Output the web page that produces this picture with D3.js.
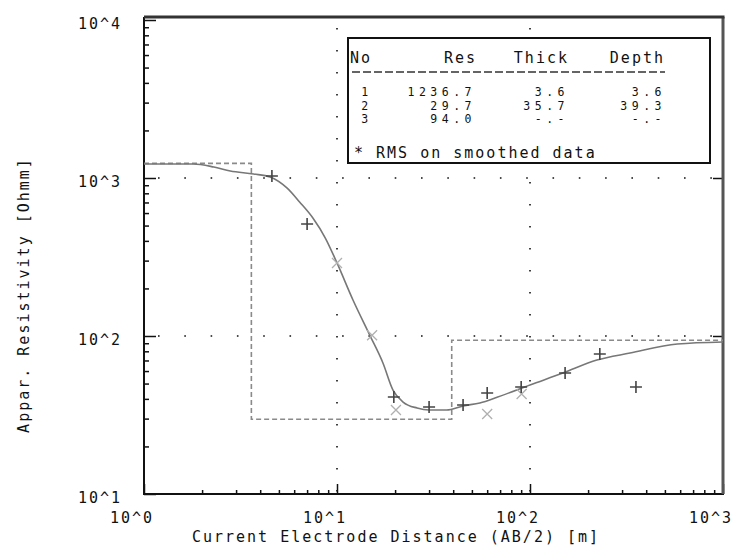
<!DOCTYPE html>
<html lang="en">
<head>
<meta charset="utf-8">
<script src="https://d3js.org/d3.v7.min.js"></script>
<title>sounding</title>
<style>
    body {margin: 0; background: #fff;}
    svg text {font-family: "DejaVu Sans Mono", monospace; font-size: 15px; letter-spacing: 2px; fill: #111;}
    svg text.row {font-size: 11.5px; letter-spacing: 4.5px;}
    .tick line {stroke: #111; stroke-width: 1.5;}
</style>
</head>
<body>
<svg width="736" height="547"></svg>
<script>
    // fitted curve (AB/2 in m, apparent resistivity in Ohmm)
    var curveAB  = [1, 1.8, 2.3, 2.8, 3.7, 4.5, 5.5, 6.4, 7.5, 8.7, 10, 12.1, 14.8, 17.3, 19.5, 22, 26, 30, 37, 45, 55, 68, 100, 148, 222, 330, 580, 1000];
    var curveRho = [1227, 1227, 1174, 1108, 1060, 1014, 865, 705, 558, 417, 290, 169, 101, 67.5, 45.5, 38.2, 35.0, 34.0, 34.0, 36.1, 37.7, 41.1, 49.0, 58.3, 70.5, 78.0, 88.9, 91.6];

    // measured data (+)
    var obsAB  = [4.6, 7.0, 19.7, 30, 45, 60, 90, 152, 230, 354];
    var obsRho = [1030, 512, 41.1, 35.5, 36.6, 43.6, 47.6, 58.3, 76.9, 47.6];

    // smoothed data (x)
    var smAB  = [10, 15.2, 20.2, 60, 90.5];
    var smRho = [290, 101, 34.0, 32.1, 42.9];

    // layer model
    var layerNo    = ['1', '2', '3'];
    var layerRes   = ['1236.7', '29.7', '94.0'];
    var layerThick = ['3.6', '35.7', '-.-'];
    var layerDepth = ['3.6', '39.3', '-.-'];
    var modelRes   = [1236.7, 29.7, 94.0];
    var modelDepth = [3.6, 39.3];

    var xTicks = [1, 10, 100, 1000];
    var xTickLabels = ['10^0', '10^1', '10^2', '10^3'];
    var yTicks = [10, 100, 1000, 10000];
    var yTickLabels = ['10^1', '10^2', '10^3', '10^4'];

    var svg = d3.select('svg');
    var x = d3.scaleLog().domain([1, 1000]).range([144, 723]);
    var y = d3.scaleLog().domain([10, 10000]).range([494, 20]);

    var minor = function (lo, hi) {
        var out = [];
        for (var d = lo; d < hi; d *= 10) for (var k = 2; k <= 9; k++) out.push(d * k);
        return out;
    };

    // dotted grid
    var grid = svg.append('g').attr('stroke', '#111').attr('stroke-width', 1.6);
    grid.selectAll('.gh').data([100, 1000]).enter().append('line')
        .attr('x1', x(1) + 14).attr('x2', x(1000)).attr('y1', d => y(d)).attr('y2', d => y(d))
        .attr('stroke-dasharray', '1.6,24.7');
    grid.selectAll('.gv').data([10, 100]).enter().append('line')
        .attr('x1', d => x(d)).attr('x2', d => x(d)).attr('y1', y(10000) + 8).attr('y2', y(10))
        .attr('stroke-dasharray', '1.6,20.4');

    // ticks
    svg.append('g').attr('transform', 'translate(' + x(1) + ',0)')
        .call(d3.axisRight(y).tickValues(yTicks).tickSize(12).tickFormat(''))
        .call(g => g.select('.domain').remove());
    svg.append('g').attr('transform', 'translate(' + x(1) + ',0)')
        .call(d3.axisRight(y).tickValues(minor(10, 10000)).tickSize(5).tickFormat(''))
        .call(g => g.select('.domain').remove());
    svg.append('g').attr('transform', 'translate(0,' + y(10) + ')')
        .call(d3.axisTop(x).tickValues(xTicks).tickSize(10).tickFormat(''))
        .call(g => g.select('.domain').remove());
    svg.append('g').attr('transform', 'translate(0,' + y(10) + ')')
        .call(d3.axisTop(x).tickValues(minor(1, 1000)).tickSize(4).tickFormat(''))
        .call(g => g.select('.domain').remove());
    svg.append('g').attr('transform', 'translate(' + x(1000) + ',0)')
        .call(d3.axisLeft(y).tickValues([100, 1000]).tickSize(10).tickFormat(''))
        .call(g => g.select('.domain').remove());

    // frame
    svg.append('line').attr('x1', x(1)).attr('x2', x(1)).attr('y1', 17).attr('y2', y(10) + 1)
        .attr('stroke', '#111').attr('stroke-width', 2);
    svg.append('line').attr('x1', x(1)).attr('x2', x(1000) + 1).attr('y1', y(10)).attr('y2', y(10))
        .attr('stroke', '#111').attr('stroke-width', 2);
    svg.append('line').attr('x1', x(1000)).attr('x2', x(1000)).attr('y1', 17).attr('y2', y(10))
        .attr('stroke', '#555').attr('stroke-width', 3);
    svg.append('line').attr('x1', x(1)).attr('x2', x(1000) + 1.5).attr('y1', 17).attr('y2', 17)
        .attr('stroke', '#333').attr('stroke-width', 3);

    // model (dashed step line)
    var steps = [[1, modelRes[0]]];
    modelDepth.forEach(function (d, i) {
        steps.push([d, modelRes[i]]);
        steps.push([d, modelRes[i + 1]]);
    });
    steps.push([1000, modelRes[modelRes.length - 1]]);
    svg.append('path').datum(steps)
        .attr('d', d3.line().x(d => x(d[0])).y(d => y(d[1])))
        .attr('fill', 'none').attr('stroke', '#8a8a8a').attr('stroke-width', 1.6)
        .attr('stroke-dasharray', '5,3');

    // fitted curve
    svg.append('path').datum(curveAB.map((d, i) => [d, curveRho[i]]))
        .attr('d', d3.line().x(d => x(d[0])).y(d => y(d[1])).curve(d3.curveMonotoneX))
        .attr('fill', 'none').attr('stroke', '#777').attr('stroke-width', 1.6);

    // smoothed data x
    svg.selectAll('.sm').data(smAB).enter().append('path')
        .attr('transform', (d, i) => 'translate(' + x(d) + ',' + y(smRho[i]) + ')')
        .attr('d', 'M-5,-5L5,5M-5,5L5,-5')
        .attr('stroke', '#b0b0b0').attr('stroke-width', 1.3);

    // observed data +
    svg.selectAll('.obs').data(obsAB).enter().append('path')
        .attr('transform', (d, i) => 'translate(' + x(d) + ',' + y(obsRho[i]) + ')')
        .attr('d', 'M-6,0H6M0,-6V6')
        .attr('stroke', '#444').attr('stroke-width', 1.6);

    // tick labels
    svg.selectAll('.yl').data(yTicks).enter().append('text')
        .attr('x', 122).attr('y', d => y(d) + 9).attr('text-anchor', 'end')
        .text((d, i) => yTickLabels[i]);
    svg.selectAll('.xl').data(xTicks).enter().append('text')
        .attr('x', d => x(d) - 12).attr('y', 523).attr('text-anchor', 'middle')
        .text((d, i) => xTickLabels[i]);

    // axis titles
    svg.append('text').attr('x', 396).attr('y', 542).attr('text-anchor', 'middle')
        .text('Current Electrode Distance (AB/2) [m]');
    svg.append('text').attr('transform', 'translate(29,295) rotate(-90)').attr('text-anchor', 'middle')
        .text('Appar. Resistivity [Ohmm]');

    // layer table
    var box = svg.append('g');
    box.append('rect').attr('x', 348).attr('y', 38).attr('width', 362).attr('height', 125)
        .attr('fill', '#fff').attr('stroke', '#111').attr('stroke-width', 2);
    box.append('text').attr('x', 350).attr('y', 63).text('No');
    box.append('text').attr('x', 477).attr('y', 63).attr('text-anchor', 'end').text('Res');
    box.append('text').attr('x', 569).attr('y', 63).attr('text-anchor', 'end').text('Thick');
    box.append('text').attr('x', 665).attr('y', 63).attr('text-anchor', 'end').text('Depth');
    box.append('line').attr('x1', 352).attr('x2', 665).attr('y1', 72).attr('y2', 72)
        .attr('stroke', '#333').attr('stroke-width', 1.5).attr('stroke-dasharray', '8,3');
    var rows = box.selectAll('.rowg').data(layerNo).enter().append('g')
        .attr('transform', (d, i) => 'translate(0,' + (96 + i * 13.5) + ')');
    rows.append('text').attr('class', 'row').attr('x', 367).attr('text-anchor', 'middle').text(d => d);
    rows.append('text').attr('class', 'row').attr('x', 476).attr('text-anchor', 'end').text((d, i) => layerRes[i]);
    rows.append('text').attr('class', 'row').attr('x', 569).attr('text-anchor', 'end').text((d, i) => layerThick[i]);
    rows.append('text').attr('class', 'row').attr('x', 666).attr('text-anchor', 'end').text((d, i) => layerDepth[i]);
    box.append('text').attr('x', 354).attr('y', 158).text('* RMS on smoothed data');
</script>
</body>
</html>
